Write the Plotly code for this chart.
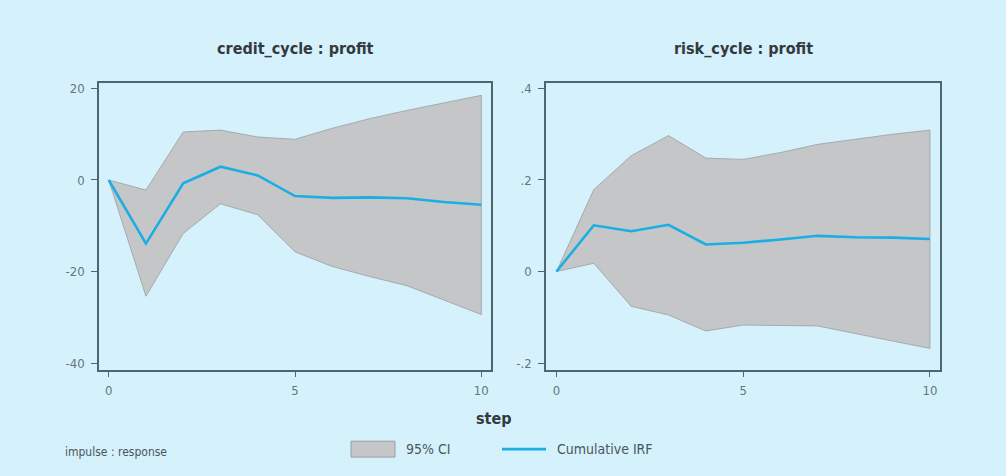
import plotly.graph_objects as go

steps = [0, 1, 2, 3, 4, 5, 6, 7, 8, 9, 10]

credit_irf = [0, -13.9, -0.7, 2.9, 1.0, -3.5, -3.9, -3.8, -4.0, -4.8, -5.4]
credit_upper = [0, -2.2, 10.5, 10.9, 9.4, 8.9, 11.3, 13.4, 15.2, 16.8, 18.5]
credit_lower = [0, -25.4, -11.7, -5.2, -7.6, -15.7, -18.9, -21.1, -23.1, -26.3, -29.4]

risk_irf = [0, 0.101, 0.088, 0.102, 0.059, 0.063, 0.070, 0.078, 0.075, 0.074, 0.071]
risk_upper = [0, 0.179, 0.253, 0.297, 0.248, 0.245, 0.260, 0.278, 0.289, 0.300, 0.309]
risk_lower = [0, 0.018, -0.076, -0.095, -0.130, -0.117, -0.118, -0.119, -0.135, -0.152, -0.168]

titles = ["credit_cycle : profit", "risk_cycle : profit"]
x_ticks = [0, 5, 10]
credit_yticks = [-40, -20, 0, 20]
credit_ylabels = ["-40", "-20", "0", "20"]
risk_yticks = [-0.2, 0, 0.2, 0.4]
risk_ylabels = ["-.2", "0", ".2", ".4"]

BG = "#d5f1fb"
FILL = "#c5c6c8"
EDGE = "#9a9ea2"
BLUE = "#1aaee5"
FRAME = "#4e6670"
TICKTXT = "#66757c"
FONT = "Liberation Sans Narrow, DejaVu Sans Condensed, sans-serif"

W, H = 1006, 476
def px(x):
    return x / W
def py(y):
    return 1 - y / H

fig = go.Figure()

panels = [
    (credit_irf, credit_upper, credit_lower, "x", "y"),
    (risk_irf, risk_upper, risk_lower, "x2", "y2"),
]
for irf, up, lo, xa, ya in panels:
    fig.add_trace(go.Scatter(
        x=steps + steps[::-1], y=up + lo[::-1], fill="toself",
        fillcolor=FILL, line=dict(color=EDGE, width=0.8),
        mode="lines", xaxis=xa, yaxis=ya, showlegend=False, hoverinfo="skip"))
    fig.add_trace(go.Scatter(
        x=steps, y=irf, mode="lines", line=dict(color=BLUE, width=2.6),
        xaxis=xa, yaxis=ya, showlegend=False))

axis_common = dict(
    showgrid=False, zeroline=False, showline=True, linecolor=FRAME, linewidth=1.5,
    mirror=True, ticks="outside", ticklen=6, tickcolor=FRAME, tickwidth=1.2,
    tickfont=dict(family=FONT, size=13, color=TICKTXT),
)

fig.update_layout(
    width=W, height=H,
    margin=dict(l=0, r=0, t=0, b=0),
    paper_bgcolor=BG, plot_bgcolor=BG,
    showlegend=False,
    xaxis=dict(domain=[px(99), px(491)], range=[-0.26, 10.26], tickvals=x_ticks,
               anchor="y", ticklabelstandoff=2, **axis_common),
    yaxis=dict(domain=[py(370), py(81.5)], range=[-41.45, 21.2], tickvals=credit_yticks,
               ticktext=credit_ylabels, anchor="x", ticklabelstandoff=4, **axis_common),
    xaxis2=dict(domain=[px(546), px(940)], range=[-0.28, 10.27], tickvals=x_ticks,
                anchor="y2", ticklabelstandoff=2, **axis_common),
    yaxis2=dict(domain=[py(370), py(81.5)], range=[-0.2145, 0.412], tickvals=risk_yticks,
                ticktext=risk_ylabels, anchor="x2", ticklabelstandoff=4, **axis_common),
)

annotations = []
centers = [(99 + 491) / 2, (546 + 940) / 2]
for t, cx in zip(titles, centers):
    annotations.append(dict(text="<b>" + t + "</b>", x=px(cx), y=py(47), xref="paper", yref="paper",
                            showarrow=False, xanchor="center", yanchor="middle",
                            font=dict(family=FONT, size=16, color="#333a3e")))
annotations.append(dict(text="<b>step</b>", x=px(494), y=py(419), xref="paper", yref="paper",
                        showarrow=False, xanchor="center", yanchor="middle",
                        font=dict(family=FONT, size=16, color="#333a3e")))
annotations.append(dict(text="impulse : response", x=px(63), y=py(453), xref="paper", yref="paper",
                        showarrow=False, xanchor="left", yanchor="middle",
                        font=dict(family=FONT, size=12, color="#4a565c")))
annotations.append(dict(text="95% CI", x=px(404), y=py(450), xref="paper", yref="paper",
                        showarrow=False, xanchor="left", yanchor="middle",
                        font=dict(family=FONT, size=14, color="#4a565c")))
annotations.append(dict(text="Cumulative IRF", x=px(555), y=py(450), xref="paper", yref="paper",
                        showarrow=False, xanchor="left", yanchor="middle",
                        font=dict(family=FONT, size=14, color="#4a565c")))
fig.update_layout(annotations=annotations)

fig.add_shape(type="rect", xref="paper", yref="paper",
              x0=px(351), x1=px(395), y0=py(458), y1=py(442),
              fillcolor=FILL, line=dict(color=EDGE, width=1))
fig.add_shape(type="line", xref="paper", yref="paper",
              x0=px(502), x1=px(546), y0=py(450), y1=py(450),
              line=dict(color=BLUE, width=2.6))

fig.write_html("out.html")
